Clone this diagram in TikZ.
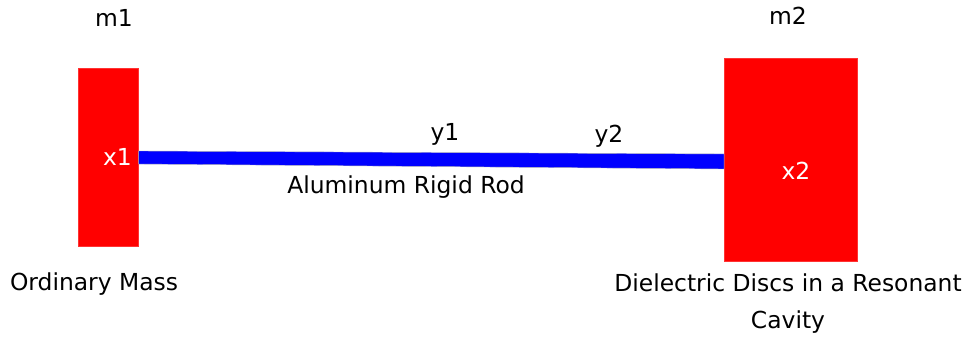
\documentclass[tikz,border=0pt]{standalone}
\usepackage{fontspec}
\setmainfont{DejaVu Sans}
\usetikzlibrary{calc}
\definecolor{massred}{RGB}{255,0,0}
\definecolor{rodblue}{RGB}{0,0,255}
\begin{document}
\begin{tikzpicture}[x=1pt,y=-1pt,
  mass/.style={fill=massred,draw=massred!80!white,line width=0.6pt,inner sep=0pt,anchor=north west},
  lbl/.style={font=\fontsize{23.4}{37}\selectfont,inner sep=0pt,align=center},
  wlbl/.style={lbl,text=white}]
\useasboundingbox (0,0) rectangle (967,337);
\node[mass,minimum width=60pt,minimum height=178pt] (r1) at (78,68) {};
\node[mass,minimum width=133pt,minimum height=203pt] (r2) at (724,58) {};
\coordinate (a1) at ($(r1.north east)+(0,83)$);
\coordinate (a2) at ($(r1.north east)+(0,96)$);
\coordinate (b1) at ($(r2.north west)+(0,96)$);
\coordinate (b2) at ($(r2.north west)+(0,111)$);
\fill[rodblue,draw=gray!60,line width=0.4pt] (a1) -- (b1) -- (b2) -- (a2) -- cycle;
\node[lbl] (m1) at (114,18) {m1};
\node[lbl] (m2) at (788,16) {m2};
\node[wlbl] (x1) at (117.5,157) {x1};
\node[wlbl] (x2) at (796,171) {x2};
\node[lbl] (y1) at (445,134) {y1};
\node[lbl] (y2) at (609,136) {y2};
\node[lbl] (rod) at (406,187) {Aluminum Rigid Rod};
\node[lbl] (om) at (94,284) {Ordinary Mass};
\node[lbl] (dd) at (788,303.5) {Dielectric Discs in a Resonant\\Cavity};
\end{tikzpicture}
\end{document}
